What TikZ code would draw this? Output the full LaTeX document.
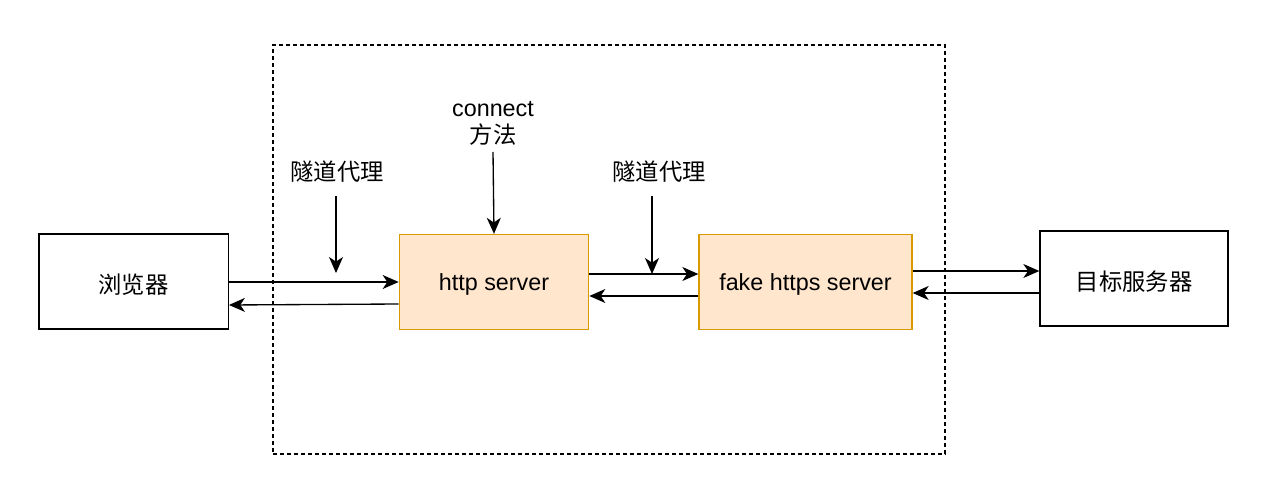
\documentclass[tikz,border=0pt]{standalone}
\usepackage{fontspec}
\setmainfont{Liberation Sans}
\newfontfamily\cjk{Noto Sans CJK SC}
\usetikzlibrary{arrows.meta}
\definecolor{boxfill}{HTML}{FFE6CC}
\definecolor{boxline}{HTML}{D79B00}
\begin{document}
\begin{tikzpicture}[x=0.75pt,y=-0.75pt,
  plain/.style={draw=black,line width=1pt,minimum height=71.25pt,inner sep=0pt,font=\fontsize{17.5}{20}\selectfont,text height=18.5pt,text depth=0pt},
  srv/.style={draw=boxline,fill=boxfill,line width=1pt,minimum height=71.25pt,inner sep=0pt,font=\fontsize{17.5}{20}\selectfont,text height=13.5pt,text depth=1pt},
  lbl/.style={inner sep=0pt,align=center,font=\fontsize{17.5}{20.25}\selectfont},
  arr/.style={line width=1pt,-{Stealth[length=12pt,width=10.5pt,inset=3.5pt]}},
  frame/.style={draw=black,line width=1pt,dash pattern=on 3pt off 2.25pt,inner sep=0pt}]
\useasboundingbox (0,0) rectangle (1280,495);
\fill[white] (0,0) rectangle (1280,495);
\node[frame,minimum width=504pt,minimum height=306.75pt] (fr) at (609,249.5) {};
\node[plain,minimum width=142pt] (br) at (133.6,281.5) {\cjk 浏览器};
\node[srv,minimum width=142pt] (hs) at (494,282) {http server};
\node[srv,minimum width=159.75pt] (fs) at (805.5,282) {fake https server};
\node[plain,minimum width=141pt] (ts) at (1134,278.5) {\cjk 目标服务器};
\node[lbl] (l1) at (337,172) {\cjk 隧道代理};
\node[lbl] (l2) at (493,123) {connect\\{\cjk 方法}};
\node[lbl] (l3) at (659,172) {\cjk 隧道代理};
\draw[arr] (l1) ++(-1,24) -- ++(0,77);
\draw[arr] (l2) ++(0,29) -- (hs.north);
\draw[arr] (l3) ++(-7,24) -- ++(0,78);
\draw[arr] (br.east |- 0,282) -- (hs.west |- 0,282);
\draw[arr] (hs.west |- 0,304) -- (br.east |- 0,305);
\draw[arr] (hs.east |- 0,274) -- (fs.west |- 0,274);
\draw[arr] (fs.west |- 0,296) -- (hs.east |- 0,296);
\draw[arr] (fs.east |- 0,271) -- (ts.west |- 0,271);
\draw[arr] (ts.west |- 0,293) -- (fs.east |- 0,293);
\end{tikzpicture}
\end{document}
